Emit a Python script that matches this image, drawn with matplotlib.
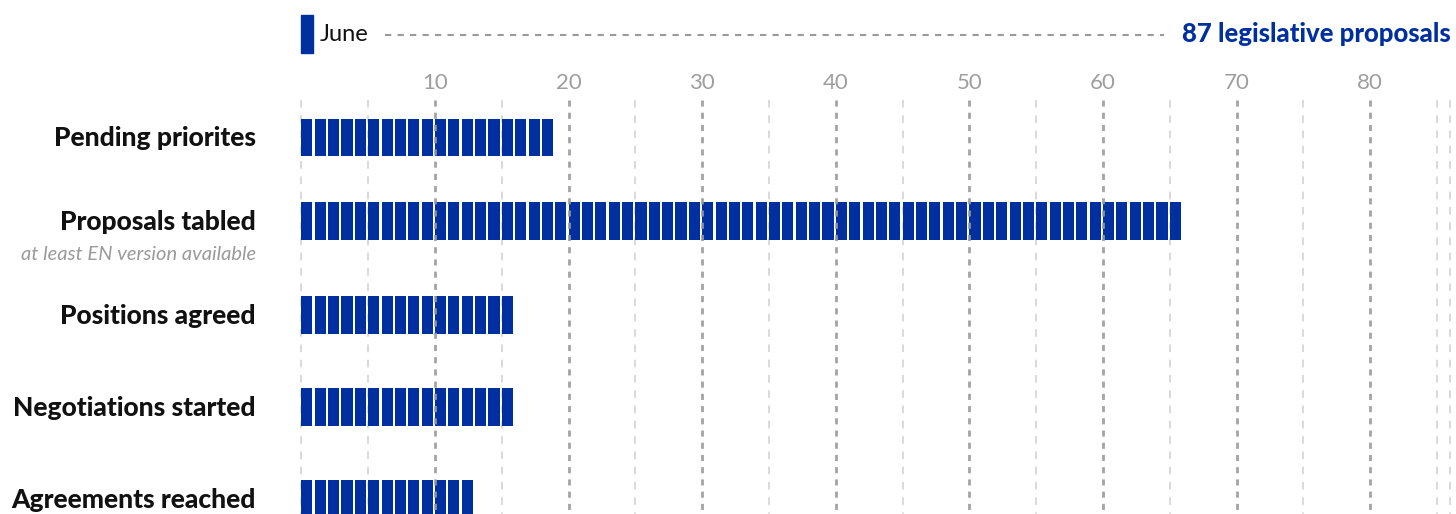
import matplotlib
matplotlib.use("Agg")
import matplotlib.pyplot as plt
from matplotlib.patches import Rectangle
import numpy as np

plt.rcParams["font.family"] = ["Lato", "DejaVu Sans"]

BLUE = "#0030A0"; GRID = "#9A9A9A"; LIGHT = "#CFCFCF"; TICK = "#9E9E9E"

categories = ["Pending priorites", "Proposals tabled", "Positions agreed",
              "Negotiations started", "Agreements reached"]
subtitles = ["", "at least EN version available", "", "", ""]
counts = [19, 66, 16, 16, 13]
total = 87
legend_label = "June"
title = f"{total} legislative proposals"
major_ticks = [10, 20, 30, 40, 50, 60, 70, 80]
minor_ticks = [5, 15, 25, 35, 45, 55, 65, 75, 85]

# row layout (slightly tighter gap under the first row)
row_y = [0, 0.929, 1.963, 2.981, 4.0]

fig = plt.figure(figsize=(14.56, 5.14), dpi=100)
ax = fig.add_axes([0, 0, 1, 1])
ax.set_xlim(-22.56, 86.42)
ax.set_ylim(4.165, -1.521)
ax.axis("off")

grid_top = -0.415
for x in [0] + minor_ticks + [86]:
    ax.plot([x, x], [grid_top, 4.2], color=LIGHT, lw=1.1, dashes=(5, 5), zorder=1)
for x in major_ticks:
    ax.plot([x, x], [grid_top, 4.2], color=GRID, lw=2, dashes=(2.2, 2.2), zorder=3, alpha=0.9)
    ax.text(x, -0.60, str(x), ha="center", va="center", fontsize=16, color=TICK)

for i, n in enumerate(counts):
    y = row_y[i]
    ax.barh(np.full(n, y), 0.83, left=np.arange(n), height=0.42, color=BLUE, zorder=2)
    ax.text(-3.4, y + 0.01, categories[i], ha="right", va="center", fontsize=19,
            fontweight="black", color="#111111")
    if subtitles[i]:
        ax.text(-3.4, y + 0.36, subtitles[i], ha="right", va="center", fontsize=14.5,
                style="italic", color="#9A9A9A")

ax.add_patch(Rectangle((0, -1.355), 0.9, 0.42, color=BLUE, zorder=2))
ax.text(1.4, -1.14, legend_label, ha="left", va="center", fontsize=17, color="#111111")
ax.plot([6.24, 64.6], [-1.134, -1.134], color=GRID, lw=1.5, dashes=(3, 3))
ax.text(86.0, -1.15, title, ha="right", va="center", fontsize=18.5, fontweight="black", color=BLUE)

fig.savefig("out.png", dpi=100)
